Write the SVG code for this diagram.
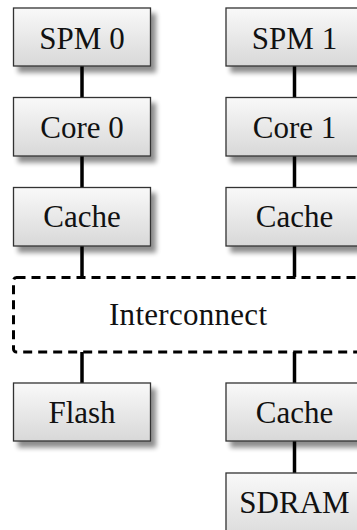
<svg xmlns="http://www.w3.org/2000/svg" width="357" height="530" viewBox="0 0 357 530">
  <defs>
    <linearGradient id="boxFill" x1="0" y1="0" x2="0" y2="1">
      <stop offset="0" stop-color="#f9f9f9"/>
      <stop offset="1" stop-color="#d8d8d8"/>
    </linearGradient>
    <filter id="shadow" x="-20%" y="-20%" width="140%" height="160%">
      <feGaussianBlur in="SourceAlpha" stdDeviation="2.5"/>
      <feOffset dx="5" dy="6" result="blur"/>
      <feComponentTransfer><feFuncA type="linear" slope="0.45"/></feComponentTransfer>
      <feMerge><feMergeNode/><feMergeNode in="SourceGraphic"/></feMerge>
    </filter>
    <style>
      .box { fill: url(#boxFill); stroke: #333; stroke-width: 1.3; filter: url(#shadow); }
      .label { font-family: "Liberation Serif", "Times New Roman", serif; font-size: 31px; fill: #111; text-anchor: middle; }
      .wire { stroke: #000; stroke-width: 3.5; fill: none; }
      .bus { fill: none; stroke: #000; stroke-width: 3; stroke-dasharray: 9 6; }
    </style>
  </defs>
  <rect width="357" height="530" fill="#fff"/>

  <!-- connectors -->
  <g id="connectors">
    <line class="wire" x1="82" y1="66" x2="82" y2="97"/>
    <line class="wire" x1="82" y1="156" x2="82" y2="187"/>
    <line class="wire" x1="82" y1="246" x2="82" y2="277"/>
    <line class="wire" x1="82" y1="352" x2="82" y2="383"/>
    <line class="wire" x1="294.5" y1="66" x2="294.5" y2="97"/>
    <line class="wire" x1="294.5" y1="156" x2="294.5" y2="187"/>
    <line class="wire" x1="294.5" y1="246" x2="294.5" y2="277"/>
    <line class="wire" x1="294.5" y1="352" x2="294.5" y2="383"/>
    <line class="wire" x1="294.5" y1="441" x2="294.5" y2="473"/>
  </g>

  <g id="interconnect">
    <rect class="bus" x="13.5" y="277.5" width="380" height="74.5" rx="3"/>
    <text class="label" x="188" y="324.5" textLength="158" lengthAdjust="spacing">Interconnect</text>
  </g>

  <g id="spm0"><rect class="box" x="13.5" y="8" width="137" height="58"/><text class="label" x="82" y="49">SPM 0</text></g>
  <g id="core0"><rect class="box" x="13.5" y="97.5" width="137" height="58.5"/><text class="label" x="82" y="137.5">Core 0</text></g>
  <g id="cache0"><rect class="box" x="13.5" y="187.5" width="137" height="58.5"/><text class="label" x="82" y="227">Cache</text></g>
  <g id="flash"><rect class="box" x="13.5" y="383" width="137" height="58"/><text class="label" x="82" y="422.5">Flash</text></g>

  <g id="spm1"><rect class="box" x="226" y="8" width="137" height="58"/><text class="label" x="294.5" y="49">SPM 1</text></g>
  <g id="core1"><rect class="box" x="226" y="97.5" width="137" height="58.5"/><text class="label" x="294.5" y="137.5">Core 1</text></g>
  <g id="cache1"><rect class="box" x="226" y="187.5" width="137" height="58.5"/><text class="label" x="294.5" y="227">Cache</text></g>
  <g id="cache2"><rect class="box" x="226" y="383" width="137" height="58"/><text class="label" x="294.5" y="422.5">Cache</text></g>
  <g id="sdram"><rect class="box" x="226" y="473" width="137" height="70"/><text class="label" x="294.5" y="513">SDRAM</text></g>
</svg>
